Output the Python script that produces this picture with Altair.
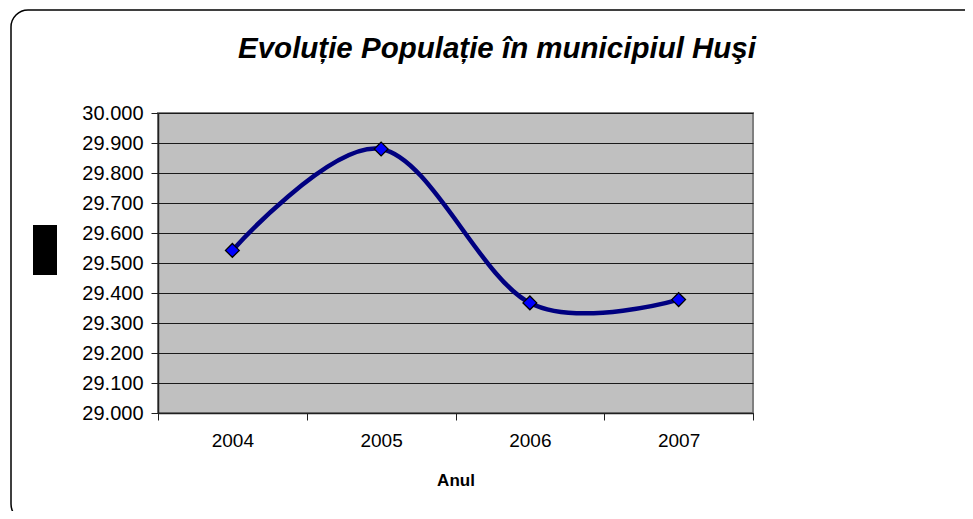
import altair as alt
import pandas as pd

years = ["2004", "2005", "2006", "2007"]
population = [29542, 29880, 29367, 29378]
y_ticks = [29000, 29100, 29200, 29300, 29400, 29500, 29600, 29700, 29800, 29900, 30000]
title_text = "Evoluție Populație în municipiul Huşi"
x_title = "Anul"

df = pd.DataFrame({"year": years, "pop": population})
FONT = "Liberation Sans"

x_enc = alt.X(
    "year:N",
    bandPosition=0.5,
    sort=years,
    scale=alt.Scale(type="band", paddingInner=0, paddingOuter=0),
    axis=alt.Axis(
        title=x_title,
        labelAngle=0,
        labelFont=FONT,
        labelFontSize=19,
        labelColor="black",
        labelPadding=11,
        tickBand="extent",
        tickSize=7,
        tickColor="#202020",
        domainColor="#202020",
        domainWidth=1.5,
        grid=False,
        titleFont=FONT,
        titleFontSize=17,
        titleFontWeight="bold",
        titleColor="black",
        titleY=72,
        titleBaseline="alphabetic",
    ),
)
y_enc = alt.Y(
    "pop:Q",
    title=None,
    scale=alt.Scale(domain=[29000, 30000], nice=False, zero=False),
    axis=alt.Axis(
        values=y_ticks,
        labelExpr="replace(format(datum.value, ','), ',', '.')",
        labelFont=FONT,
        labelFontSize=20,
        labelColor="black",
        labelPadding=8,
        tickSize=7,
        tickColor="#202020",
        domainColor="#202020",
        domainWidth=1.5,
        grid=True,
        gridColor="#1a1a1a",
        gridWidth=1,
    ),
)

base = alt.Chart(df)
line = base.mark_line(
    interpolate="cardinal", tension=0, color="#000080", strokeWidth=4.5
).encode(x=x_enc, y=y_enc)
points = base.mark_point(
    shape="diamond", filled=True, fill="#0000FF", stroke="black",
    strokeWidth=1.3, size=190, opacity=1
).encode(x=x_enc, y=y_enc)

dummy = pd.DataFrame({"t": [title_text]})
title = alt.Chart(dummy).mark_text(
    font=FONT, fontSize=29.5, fontWeight="bold", fontStyle="italic",
    align="center", baseline="alphabetic", color="black"
).encode(text="t:N", x=alt.value(339), y=alt.value(-55))

box = alt.Chart(dummy).mark_rect(color="black").encode(
    x=alt.value(-125), x2=alt.value(-101), y=alt.value(112), y2=alt.value(162)
)
border = alt.Chart(dummy).mark_rect(
    fillOpacity=0, stroke="black", strokeWidth=1.5, cornerRadius=17
).encode(
    x=alt.value(-147), x2=alt.value(830), y=alt.value(-103), y2=alt.value(408)
)

chart = alt.layer(border, box, title, line, points).properties(
    width=595,
    height=300,
    autosize=alt.AutoSizeParams(type="none"),
    padding={"left": 150, "top": 105, "right": 212, "bottom": 98},
    background="white",
).configure_view(
    fill="#C0C0C0", stroke="#808080", strokeWidth=2
)

chart.save("out.html", embed_options={"renderer": "svg", "actions": False})
